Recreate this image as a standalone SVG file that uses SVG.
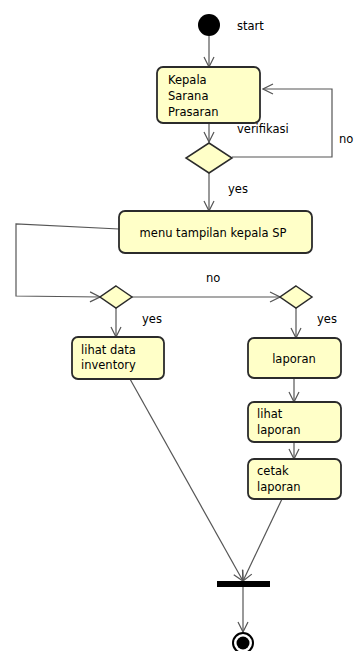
<svg xmlns="http://www.w3.org/2000/svg" width="355" height="651" viewBox="0 0 355 651">
  <style>
    .act { fill: #ffffc8; stroke: #2b2b2b; stroke-width: 1.8; }
    .dec { fill: #ffffc8; stroke: #2b2b2b; stroke-width: 1.5; }
    .lbl { font-family: "DejaVu Sans", Verdana, sans-serif; font-size: 11.5px; fill: #000; }
    .edge { fill: none; stroke: #555; stroke-width: 1.2; }
  </style>
  <defs>
    <marker id="open" viewBox="0 0 12 12" refX="11" refY="6" markerWidth="12" markerHeight="12" markerUnits="userSpaceOnUse" orient="auto">
      <path d="M1,1 L11,6 L1,11" fill="none" stroke="#555" stroke-width="1.2"/>
    </marker>
  </defs>
  <rect width="355" height="651" fill="#fff"/>

  <g id="connectors">
    <line class="edge" x1="209" y1="36" x2="209" y2="67" marker-end="url(#open)"/>
    <line class="edge" x1="209" y1="123" x2="209" y2="142" marker-end="url(#open)"/>
    <polyline class="edge" points="232,157 332,157 332,89 263,89" marker-end="url(#open)"/>
    <line class="edge" x1="209" y1="173" x2="209" y2="211" marker-end="url(#open)"/>
    <polyline class="edge" points="119,229 16,224 16,296 100,297" marker-end="url(#open)"/>
    <line class="edge" x1="132" y1="297" x2="280" y2="297" marker-end="url(#open)"/>
    <line class="edge" x1="116" y1="308" x2="116" y2="337" marker-end="url(#open)"/>
    <line class="edge" x1="296" y1="308" x2="296" y2="338" marker-end="url(#open)"/>
    <line class="edge" x1="294" y1="378" x2="294" y2="402" marker-end="url(#open)"/>
    <line class="edge" x1="294" y1="442" x2="294" y2="459" marker-end="url(#open)"/>
    <line class="edge" x1="130" y1="379" x2="243" y2="581" marker-end="url(#open)"/>
    <line class="edge" x1="282" y1="499" x2="243" y2="581" marker-end="url(#open)"/>
    <line class="edge" x1="243" y1="587" x2="243" y2="632" marker-end="url(#open)"/>
  </g>

  <g id="start">
    <circle cx="209" cy="25" r="11" fill="#000"/>
    <text class="lbl" x="237" y="30">start</text>
  </g>

  <g id="kepala">
    <rect class="act" x="157" y="67" width="103" height="56" rx="6"/>
    <text class="lbl" x="168" y="84">Kepala</text>
    <text class="lbl" x="168" y="100">Sarana</text>
    <text class="lbl" x="168" y="116">Prasaran</text>
  </g>

  <g id="verifikasi">
    <polygon class="dec" points="209,143 232,158 209,173 186,158"/>
    <text class="lbl" x="237" y="133">verifikasi</text>
    <text class="lbl" x="339" y="143">no</text>
    <text class="lbl" x="228" y="193">yes</text>
  </g>

  <g id="menu">
    <rect class="act" x="119" y="211" width="193" height="42" rx="6"/>
    <text class="lbl" x="213" y="237" text-anchor="middle">menu tampilan kepala SP</text>
  </g>

  <g id="decision-left">
    <polygon class="dec" points="116,286 132,297 116,308 100,297"/>
    <text class="lbl" x="142" y="323">yes</text>
  </g>

  <g id="decision-right">
    <polygon class="dec" points="296,286 312,297 296,308 280,297"/>
    <text class="lbl" x="317" y="323">yes</text>
    <text class="lbl" x="206" y="282">no</text>
  </g>

  <g id="inventory">
    <rect class="act" x="72" y="337" width="92" height="42" rx="6"/>
    <text class="lbl" x="81" y="354">lihat data</text>
    <text class="lbl" x="81" y="369">inventory</text>
  </g>

  <g id="laporan">
    <rect class="act" x="248" y="338" width="93" height="40" rx="6"/>
    <text class="lbl" x="294" y="363" text-anchor="middle">laporan</text>
  </g>

  <g id="lihat-laporan">
    <rect class="act" x="248" y="402" width="93" height="40" rx="6"/>
    <text class="lbl" x="257" y="418">lihat</text>
    <text class="lbl" x="257" y="434">laporan</text>
  </g>

  <g id="cetak-laporan">
    <rect class="act" x="248" y="459" width="93" height="40" rx="6"/>
    <text class="lbl" x="257" y="475">cetak</text>
    <text class="lbl" x="257" y="491">laporan</text>
  </g>

  <g id="join">
    <rect x="217" y="581" width="53" height="6" fill="#000"/>
  </g>

  <g id="end">
    <circle cx="243" cy="643" r="10" fill="#fff" stroke="#000" stroke-width="2"/>
    <circle cx="243" cy="643" r="6.5" fill="#000"/>
  </g>
</svg>
